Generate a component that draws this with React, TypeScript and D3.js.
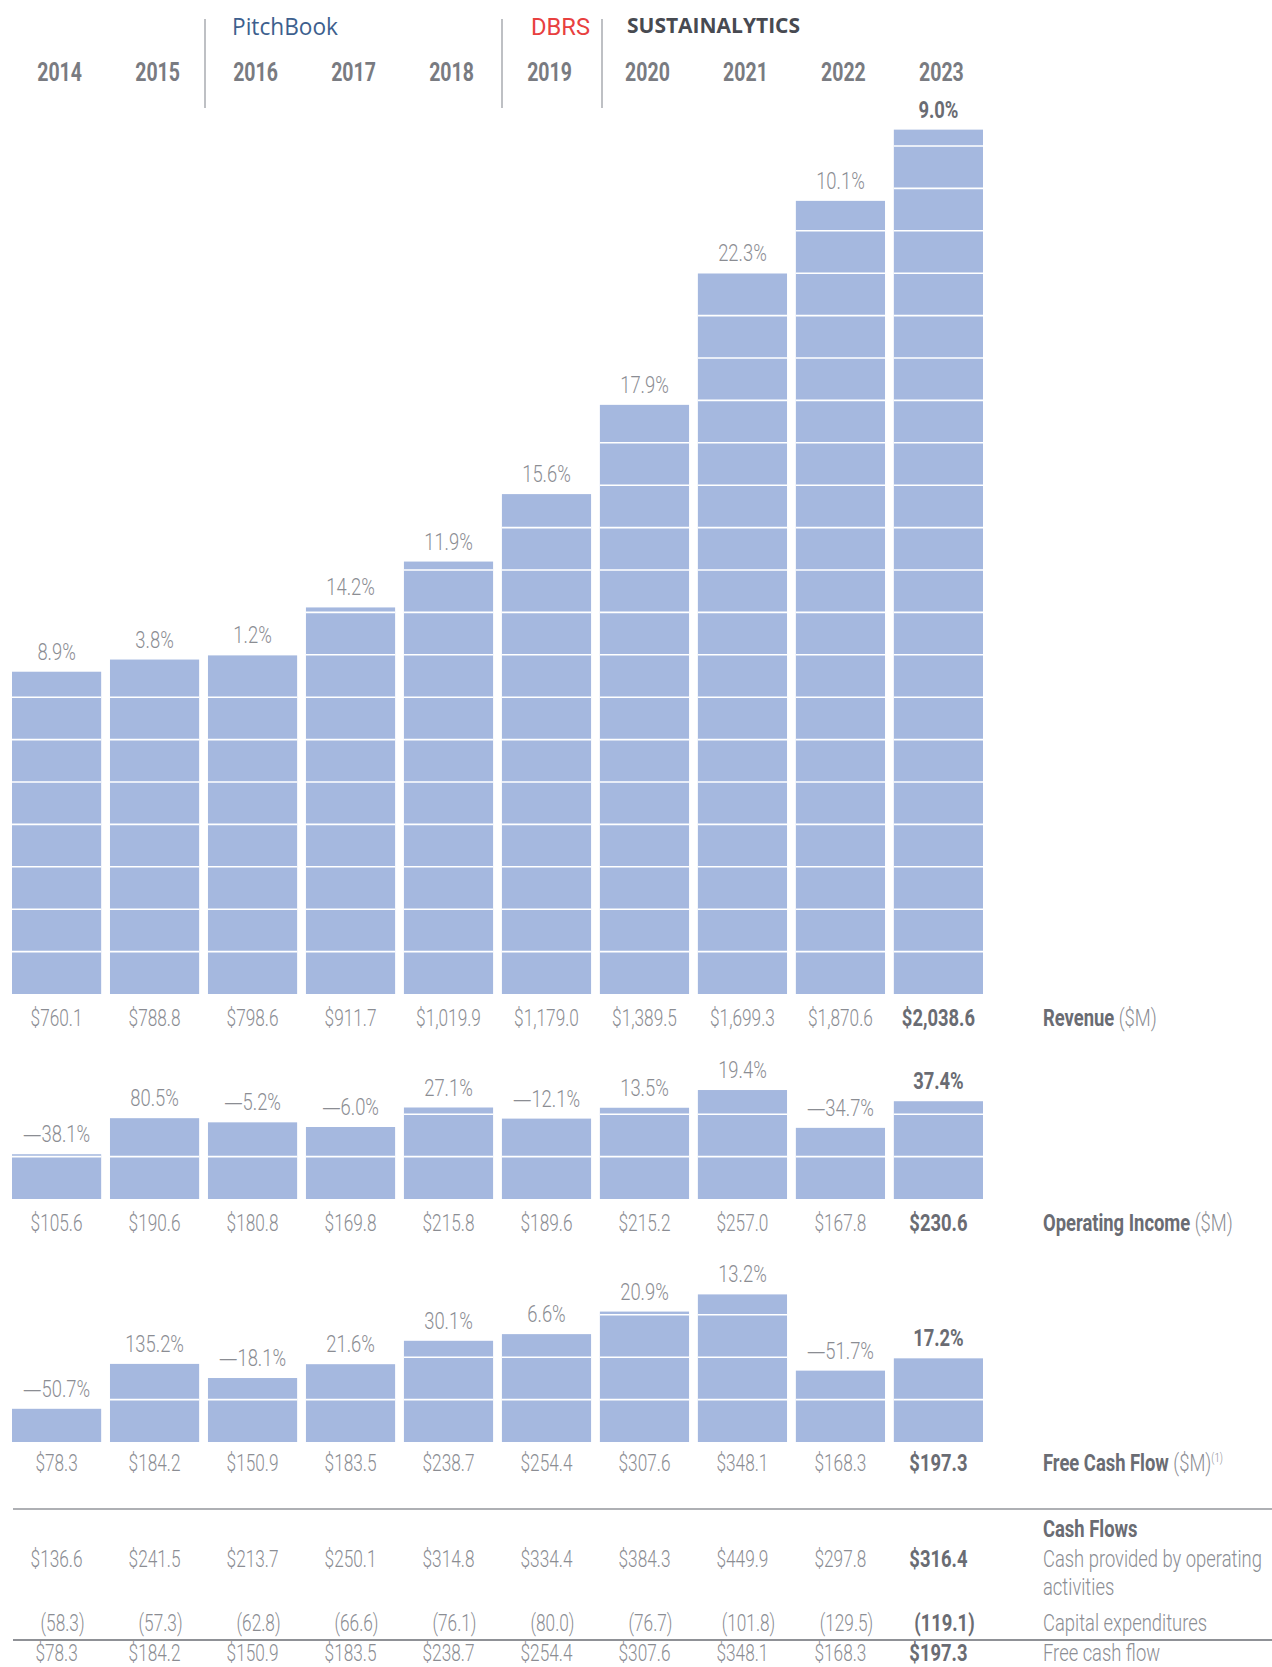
import React from 'react';
import * as d3 from 'd3';

const years = ['2014', '2015', '2016', '2017', '2018', '2019', '2020', '2021', '2022', '2023'];

const revenue = [760.1, 788.8, 798.6, 911.7, 1019.9, 1179.0, 1389.5, 1699.3, 1870.6, 2038.6];
const revenueGrowth = [8.9, 3.8, 1.2, 14.2, 11.9, 15.6, 17.9, 22.3, 10.1, 9.0];

const operatingIncome = [105.6, 190.6, 180.8, 169.8, 215.8, 189.6, 215.2, 257.0, 167.8, 230.6];
const operatingGrowth = [-38.1, 80.5, -5.2, -6.0, 27.1, -12.1, 13.5, 19.4, -34.7, 37.4];

const freeCashFlow = [78.3, 184.2, 150.9, 183.5, 238.7, 254.4, 307.6, 348.1, 168.3, 197.3];
const freeCashGrowth = [-50.7, 135.2, -18.1, 21.6, 30.1, 6.6, 20.9, 13.2, -51.7, 17.2];

const cashFromOps = [136.6, 241.5, 213.7, 250.1, 314.8, 334.4, 384.3, 449.9, 297.8, 316.4];
const capex = [58.3, 57.3, 62.8, 66.6, 76.1, 80.0, 76.7, 101.8, 129.5, 119.1];

const FONT = "Roboto, 'Noto Sans', sans-serif";
const BAR = '#a5b8df';
const LIGHT = '#8b8d93';
const DARK = '#6a6c73';

const x = d3.scaleBand<string>().domain(years).range([12, 983]).paddingInner(0.09);
const money = d3.format(',.1f');

// px per $100M is the same in every panel
const unit = 42.4;

// condensed text: the font is squeezed horizontally
function T({ x, y, children, size = 23, bold = false, anchor = 'start', fill, sx }: {
  x: number; y: number; children: React.ReactNode; size?: number; bold?: boolean;
  anchor?: string; fill?: string; sx?: number;
}) {
  const k = sx ?? (bold ? 0.8 : 0.75);
  return (
    <text transform={`translate(${x},${y}) scale(${k},1)`} textAnchor={anchor} fontSize={size}
      fontWeight={bold ? 700 : 300} fill={fill || (bold ? DARK : LIGHT)}>{children}</text>
  );
}

function Pct({ v }: { v: number }) {
  return (
    <>
      {v < 0 && <tspan fontFamily="'Noto Sans', sans-serif" fontWeight={300}>{'\u2014'}</tspan>}
      <tspan>{Math.abs(v).toFixed(1) + '%'}</tspan>
    </>
  );
}

function Panel({ base, values, growth, label, sup, valueOffset = 32 }: {
  base: number; values: number[]; growth: number[]; label: string; sup?: string; valueOffset?: number;
}) {
  const y = d3.scaleLinear().domain([0, 100]).range([base, base - unit]);
  const last = values.length - 1;
  return (
    <g>
      {values.map((v, i) => {
        const x0 = x(years[i]) || 0;
        const w = x.bandwidth();
        const grid = d3.range(100, v, 100).filter(g => v - g > 3);
        const bold = i === last;
        return (
          <g key={years[i]}>
            <rect x={x0} y={y(v)} width={w} height={base - y(v)} fill={BAR} />
            {grid.map(g => (
              <line key={g} x1={x0} x2={x0 + w} y1={y(g)} y2={y(g)} stroke="#fff" strokeWidth={1.6} />
            ))}
            <T x={x0 + w / 2} y={y(v) - 12} anchor="middle" bold={bold} sx={0.8}><Pct v={growth[i]} /></T>
            <T x={x0 + w / 2} y={base + valueOffset} anchor="middle" bold={bold}>${money(v)}</T>
          </g>
        );
      })}
      <T x={1043} y={base + valueOffset} sx={0.8}>
        <tspan fontWeight={700} fill={DARK}>{label}</tspan>
        <tspan> ($M)</tspan>
        {sup && <tspan fontSize={12} dy={-9}>{sup}</tspan>}
      </T>
    </g>
  );
}

export default function App() {
  const cx = (i: number) => (x(years[i]) || 0) + x.bandwidth() / 2;
  const last = years.length - 1;
  return (
    <svg width={1272} height={1667} style={{ position: 'absolute', left: 0, top: 0, display: 'block' }}
      fontFamily={FONT}>
      <rect width={1272} height={1667} fill="#fff" />

      {/* header */}
      {[205, 502, 602].map(sx => (
        <line key={sx} x1={sx} x2={sx} y1={19} y2={108} stroke="#a9abb0" strokeWidth={1.5} />
      ))}
      <text x={232} y={35} fontSize={23} fill="#3d5f8e" fontFamily="'Open Sans', 'Noto Sans', sans-serif"
        textLength={106} lengthAdjust="spacingAndGlyphs">PitchBook</text>
      <text x={531} y={35} fontSize={24} fill="#e8403f" textLength={59} lengthAdjust="spacingAndGlyphs">DBRS</text>
      <text x={627} y={33} fontSize={21} fontWeight={700} fill="#474a51"
        fontFamily="'Open Sans', 'Noto Sans', sans-serif"
        textLength={173} lengthAdjust="spacingAndGlyphs">SUSTAINALYTICS</text>
      {years.map((yr, i) => (
        <T key={yr} x={cx(i) + 3} y={81} anchor="middle" size={25} bold sx={0.78} fill="#797b81">{yr}</T>
      ))}

      <Panel base={994} values={revenue} growth={revenueGrowth} label="Revenue" />
      <Panel base={1199} values={operatingIncome} growth={operatingGrowth} label="Operating Income" />
      <Panel base={1442} values={freeCashFlow} growth={freeCashGrowth} label="Free Cash Flow" sup="(1)" valueOffset={29} />

      {/* cash flow table */}
      <line x1={13} x2={1272} y1={1509} y2={1509} stroke="#aeb0b4" strokeWidth={2} />
      <T x={1043} y={1537} bold>Cash Flows</T>
      {cashFromOps.map((v, i) => (
        <T key={'o' + i} x={cx(i)} y={1567} anchor="middle" bold={i === last}>${money(v)}</T>
      ))}
      <T x={1043} y={1567} sx={0.8}>Cash provided by operating</T>
      <T x={1043} y={1595} sx={0.8}>activities</T>
      {capex.map((v, i) => (
        <T key={'c' + i} x={cx(i) + 6} y={1631} anchor="middle" bold={i === last}>({money(v)})</T>
      ))}
      <T x={1043} y={1631} sx={0.8}>Capital expenditures</T>
      <line x1={13} x2={1272} y1={1640} y2={1640} stroke="#8f9196" strokeWidth={2} />
      {freeCashFlow.map((v, i) => (
        <T key={'f' + i} x={cx(i)} y={1661} anchor="middle" bold={i === last}>${money(v)}</T>
      ))}
      <T x={1043} y={1661} sx={0.8}>Free cash flow</T>
    </svg>
  );
}
